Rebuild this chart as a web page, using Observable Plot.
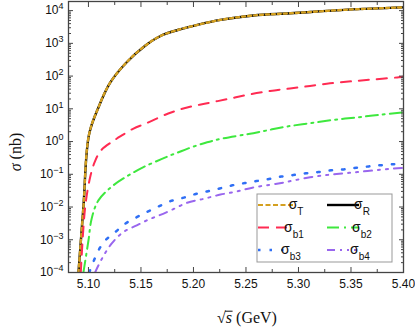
<!DOCTYPE html>
<html>
<head>
<meta charset="utf-8">
<script src="https://cdn.jsdelivr.net/npm/d3@7"></script>
<script src="https://cdn.jsdelivr.net/npm/@observablehq/plot@0.6"></script>
<style>
  html, body { margin: 0; padding: 0; background: #fff; }
  #chart { width: 415px; height: 335px; }
</style>
</head>
<body>
<div id="chart"></div>
<script>
// ---- data (sqrt(s) in GeV, sigma in nb) ----
const xT = [5.0905, 5.0952, 5.1005, 5.1095, 5.1207, 5.1362, 5.154, 5.1695, 5.1857, 5.202, 5.2257, 5.257, 5.2924, 5.3467, 5.40];
const sigmaT = [1e-4, 1.0e-2, 1.6, 11, 63, 260, 850, 1740, 2600, 3550, 5200, 7100, 8300, 10700, 12600];
const sigmaR = [1e-4, 1.0e-2, 1.6, 11, 63, 260, 850, 1740, 2600, 3550, 5200, 7100, 8300, 10700, 12600];

const xB1 = [5.0927, 5.0969, 5.1016, 5.106, 5.112, 5.1238, 5.1314, 5.1429, 5.154, 5.176, 5.194, 5.213, 5.233, 5.252, 5.273, 5.292, 5.311, 5.330, 5.350, 5.371, 5.394, 5.40];
const sigmaB1 = [1e-4, 1.0e-2, 0.081, 0.24, 0.54, 1.05, 1.51, 2.5, 3.5, 7.2, 11, 14.8, 20, 27, 35, 42, 50, 60, 69, 79, 91, 95];

const xB2 = [5.0952, 5.100, 5.1031, 5.1095, 5.1222, 5.135, 5.1524, 5.170, 5.178, 5.1857, 5.194, 5.213, 5.2286, 5.2524, 5.270, 5.289, 5.311, 5.333, 5.356, 5.378, 5.40];
const sigmaB2 = [1e-4, 9.5e-4, 4.5e-3, 0.016, 0.042, 0.081, 0.166, 0.295, 0.38, 0.47, 0.60, 0.95, 1.26, 1.70, 2.19, 2.88, 3.63, 4.57, 5.5, 6.6, 7.8];

const xB3 = [5.1007, 5.1095, 5.116, 5.1254, 5.135, 5.146, 5.157, 5.167, 5.178, 5.190, 5.202, 5.213, 5.225, 5.237, 5.249, 5.26, 5.272, 5.2835, 5.295, 5.307, 5.319, 5.331, 5.343, 5.355, 5.367, 5.379, 5.391, 5.40];
const sigmaB3 = [1e-4, 4.7e-4, 9.5e-4, 1.7e-3, 3.1e-3, 4.9e-3, 7.4e-3, 0.0105, 0.0151, 0.019, 0.025, 0.030, 0.037, 0.046, 0.054, 0.062, 0.072, 0.085, 0.095, 0.107, 0.117, 0.132, 0.141, 0.158, 0.174, 0.19, 0.204, 0.214];

const xB4 = [5.1063, 5.1127, 5.122, 5.133, 5.146, 5.157, 5.167, 5.179, 5.194, 5.2098, 5.2257, 5.2416, 5.256, 5.273, 5.286, 5.2955, 5.311, 5.327, 5.343, 5.359, 5.375, 5.391, 5.40];
const sigmaB4 = [1e-4, 2.6e-4, 7.6e-4, 1.7e-3, 2.75e-3, 4.1e-3, 5.5e-3, 8.1e-3, 0.0135, 0.0178, 0.024, 0.030, 0.039, 0.048, 0.056, 0.065, 0.081, 0.095, 0.107, 0.120, 0.135, 0.151, 0.158];

// ---- ticks ----
const xMajorTicks = [5.10, 5.15, 5.20, 5.25, 5.30, 5.35, 5.40];
const xMinorTicks = [5.125, 5.175, 5.225, 5.275, 5.325, 5.375];
const yMajorTicks = [1e-4, 1e-3, 1e-2, 1e-1, 1e0, 1e1, 1e2, 1e3, 1e4];
const yMinorTicks = [];
for (const d of yMajorTicks) for (let m = 2; m <= 9; m++) if (d * m < 1.9e4) yMinorTicks.push(d * m);

const xDomain = [5.081, 5.40];
const yDomain = [1e-4, 1.9e4];

const toRows = (xs, ys) => xs.map((x, i) => ({x, y: ys[i]}));

const axisColor = "#444";
const curve = "catmull-rom";
const chart = Plot.plot({
  width: 415,
  height: 335,
  marginLeft: 68,
  marginRight: 12,
  marginTop: 1,
  marginBottom: 63,
  style: {fontFamily: "'Liberation Sans', Arial, sans-serif", fontSize: "12px", background: "#fff", color: "#111"},
  x: {type: "linear", domain: xDomain},
  y: {type: "log", domain: yDomain},
  marks: [
    Plot.line(toRows(xT, sigmaR), {x: "x", y: "y", stroke: "#000", strokeWidth: 2.4, curve, clip: true}),
    Plot.line(toRows(xT, sigmaT), {x: "x", y: "y", stroke: "#d4a020", strokeWidth: 2.4, strokeDasharray: "3,3", curve, clip: true}),
    Plot.line(toRows(xB1, sigmaB1), {x: "x", y: "y", stroke: "#ff2b52", strokeWidth: 2, strokeDasharray: "10,8", curve, clip: true}),
    Plot.line(toRows(xB2, sigmaB2), {x: "x", y: "y", stroke: "#3ee83e", strokeWidth: 2, strokeDasharray: "12,5,2,5", curve, clip: true}),
    Plot.line(toRows(xB3, sigmaB3), {x: "x", y: "y", stroke: "#2f6ff5", strokeWidth: 2.5, strokeDasharray: "2.5,10", curve, clip: true}),
    Plot.line(toRows(xB4, sigmaB4), {x: "x", y: "y", stroke: "#9966ee", strokeWidth: 2, strokeDasharray: "8,6,2,6,2,6", curve, clip: true}),
    Plot.frame({stroke: axisColor, strokeWidth: 1.3}),
    Plot.axisX(xMajorTicks, {anchor: "bottom", tickSize: -5, tickPadding: 12, stroke: axisColor, fill: "#111", tickFormat: d3.format(".2f"), label: null, fontSize: 12}),
    Plot.axisX(xMinorTicks, {anchor: "bottom", tickSize: -3, stroke: axisColor, fill: "none", label: null}),
    Plot.axisX(xMajorTicks, {anchor: "top", tickSize: -5, stroke: axisColor, fill: "none", label: null}),
    Plot.axisX(xMinorTicks, {anchor: "top", tickSize: -3, stroke: axisColor, fill: "none", label: null}),
    Plot.axisY(yMajorTicks, {anchor: "left", tickSize: -5, tickPadding: 10, stroke: axisColor, fill: "#111", tickFormat: d => "E" + Math.round(Math.log10(d)), label: null, fontSize: 12}),
    Plot.axisY(yMinorTicks, {anchor: "left", tickSize: -3, stroke: axisColor, fill: "none", label: null}),
    Plot.axisY(yMajorTicks, {anchor: "right", tickSize: -5, stroke: axisColor, fill: "none", label: null}),
    Plot.axisY(yMinorTicks, {anchor: "right", tickSize: -3, stroke: axisColor, fill: "none", label: null})
  ]
});
document.getElementById("chart").appendChild(chart);

const svg = d3.select(chart);
// superscript exponents on y tick labels
svg.selectAll("text").each(function () {
  const t = this.textContent;
  if (/^E-?\d+$/.test(t)) {
    const e = t.slice(1).replace("-", "\u2212");
    const sel = d3.select(this);
    sel.text("10");
    sel.append("tspan").attr("baseline-shift", "super").attr("font-size", "9px").text(e);
  }
});

// axis titles
svg.append("text")
  .attr("transform", "translate(21,152) rotate(-90)")
  .attr("text-anchor", "middle")
  .attr("font-family", "'Liberation Serif', 'Times New Roman', serif")
  .attr("font-size", "16px")
  .attr("fill", "#111")
  .call(t => {
    t.append("tspan").attr("font-style", "italic").text("\u03c3");
    t.append("tspan").text(" (nb)");
  });

const xt = svg.append("text")
  .attr("x", 247).attr("y", 323)
  .attr("text-anchor", "middle")
  .attr("font-family", "'Liberation Serif', 'Times New Roman', serif")
  .attr("font-size", "16px")
  .attr("fill", "#111");
xt.append("tspan").text("\u221a");
xt.append("tspan").attr("font-style", "italic").text("s");
xt.append("tspan").text(" (GeV)");
// vinculum of the radical over "s"
try {
  const node = xt.node();
  const r0 = node.getExtentOfChar(0);
  const r1 = node.getExtentOfChar(1);
  svg.append("line")
    .attr("x1", r0.x + r0.width - 0.8).attr("x2", r1.x + r1.width + 0.5)
    .attr("y1", r0.y + 2.2).attr("y2", r0.y + 2.2)
    .attr("stroke", "#111").attr("stroke-width", 1);
} catch (e) {}

// legend
const legendItems = [
  {name: "T", color: "#d4a020", dash: "5,2.5", width: 2.2, col: 0, row: 0, len: 35},
  {name: "R", color: "#000", dash: null, width: 2.4, col: 1, row: 0, len: 32},
  {name: "b1", color: "#ff2b52", dash: "11,7", width: 2, col: 0, row: 1, len: 33},
  {name: "b2", color: "#3ee83e", dash: "12,5,2,5", width: 2, col: 1, row: 1, len: 32},
  {name: "b3", color: "#2f6ff5", dash: "2.5,9", width: 2.5, col: 0, row: 2, len: 30},
  {name: "b4", color: "#9966ee", dash: "8,5,2,5,2,5", width: 2, col: 1, row: 2, len: 30}
];
const lg = svg.append("g");
lg.append("rect").attr("x", 257).attr("y", 194).attr("width", 135).attr("height", 68)
  .attr("fill", "#fff").attr("stroke", "#999").attr("stroke-width", 1);
for (const it of legendItems) {
  const x0 = it.col === 0 ? 258 : 327;
  const yy = 205 + it.row * 22.5;
  lg.append("line").attr("x1", x0).attr("x2", x0 + it.len).attr("y1", yy).attr("y2", yy)
    .attr("stroke", it.color).attr("stroke-width", it.width)
    .attr("stroke-dasharray", it.dash);
  const tx = lg.append("text").attr("x", x0 + it.len + 3).attr("y", yy + 4)
    .attr("font-family", "'Liberation Sans', Arial, sans-serif").attr("font-size", "14px").attr("fill", "#111");
  tx.append("tspan").text("\u03c3");
  tx.append("tspan").attr("baseline-shift", "sub").attr("font-size", "10px").text(it.name);
}
</script>
</body>
</html>
